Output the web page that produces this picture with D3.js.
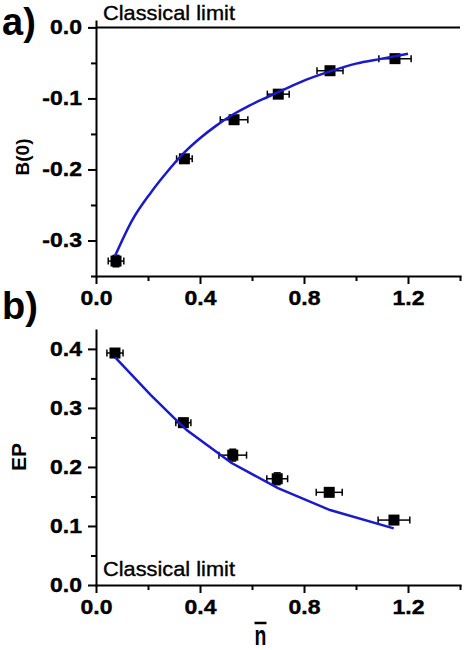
<!DOCTYPE html>
<html lang="en">
<head>
    <meta charset="UTF-8">
    <title>B(0) and EP vs n</title>
    <script src="https://d3js.org/d3.v7.min.js"></script>
    <style>
        body {
            margin: 0;
            background-color: #fff;
        }
        svg text {
            font-family: "Liberation Sans", Arial, sans-serif;
        }
    </style>
</head>
<body>
<div id="chart"></div>

<script>
    // panel a) : B(0)
    const nA = [0.077, 0.34, 0.531, 0.701, 0.90, 1.15];
    const nAErr = [0.030, 0.030, 0.053, 0.042, 0.050, 0.062];
    const bZero = [-0.329, -0.185, -0.130, -0.094, -0.061, -0.044];
    const bZeroErr = [0.008, 0.005, 0.003, 0.003, 0.002, 0.003];
    const fitAx = [0.073, 0.14, 0.21, 0.27, 0.34, 0.40, 0.46, 0.53, 0.59, 0.66, 0.72, 0.80, 0.90, 1.00, 1.10, 1.20];
    const fitAy = [-0.322, -0.271, -0.233, -0.205, -0.176, -0.156, -0.139, -0.122, -0.110, -0.098, -0.088, -0.075, -0.062, -0.051, -0.044, -0.037];

    // panel b) : EP
    const nB = [0.073, 0.336, 0.526, 0.697, 0.897, 1.146];
    const nBErr = [0.031, 0.029, 0.053, 0.040, 0.050, 0.061];
    const ep = [0.393, 0.275, 0.220, 0.180, 0.157, 0.110];
    const epErr = [0.005, 0.007, 0.010, 0.010, 0.004, 0.006];
    const fitBx = [0.073, 0.21, 0.30, 0.35, 0.52, 0.70, 0.90, 1.145];
    const fitBy = [0.386, 0.322, 0.283, 0.262, 0.207, 0.164, 0.127, 0.096];

    const xTicks = [0.0, 0.4, 0.8, 1.2];
    const xMinor = [0.2, 0.6, 1.0, 1.4];
    const yTicksA = [0.0, -0.1, -0.2, -0.3];
    const yMinorA = [-0.05, -0.15, -0.25, -0.35];
    const yTicksB = [0.0, 0.1, 0.2, 0.3, 0.4];
    const yMinorB = [0.05, 0.15, 0.25, 0.35];

    const width = 465;
    const height = 650;
    const blue = "#1a1acc";
    const stretch = 1.15;

    const svg = d3.select("#chart")
        .append("svg")
        .attr("width", width)
        .attr("height", height);

    const x = d3.scaleLinear().domain([0, 1.4]).range([96, 460]);
    const yA = d3.scaleLinear().domain([-0.35, 0.009]).range([276, 21]);
    const yB = d3.scaleLinear().domain([0, 0.432]).range([585, 330]);

    const fmt = d => d.toFixed(1);

    function drawAxes(y, yTicks, yMinor, bottom) {
        // minor ticks first
        svg.append("g")
            .attr("transform", `translate(0,${bottom})`)
            .call(d3.axisBottom(x).tickValues(xMinor).tickSize(5).tickFormat(""))
            .call(g => g.select(".domain").remove());
        svg.append("g")
            .attr("transform", `translate(${x(0)},0)`)
            .call(d3.axisLeft(y).tickValues(yMinor).tickSize(5).tickFormat(""))
            .call(g => g.select(".domain").remove());

        const gx = svg.append("g")
            .attr("transform", `translate(0,${bottom})`)
            .call(d3.axisBottom(x).tickValues(xTicks).tickSize(8).tickSizeOuter(0).tickPadding(7).tickFormat(fmt));
        gx.selectAll("text")
            .attr("transform", `scale(${stretch},1)`);

        const gy = svg.append("g")
            .attr("transform", `translate(${x(0)},0)`)
            .call(d3.axisLeft(y).tickValues(yTicks).tickSize(8).tickSizeOuter(0).tickPadding(6).tickFormat(fmt));
        gy.selectAll("text")
            .attr("x", -14 / stretch)
            .attr("transform", `scale(${stretch},1)`);

        svg.selectAll(".tick line").attr("stroke", "#000").attr("stroke-width", 2);
        svg.selectAll(".domain").attr("stroke", "#000").attr("stroke-width", 2).attr("stroke-linecap", "square");
        svg.selectAll(".tick text")
            .attr("fill", "#000")
            .attr("stroke", "#000")
            .attr("stroke-width", 0.4)
            .attr("font-size", "20px")
            .attr("font-weight", "bold")
            .attr("font-family", "Liberation Sans, Arial, sans-serif");
    }

    function drawPoints(xs, xe, ys, ye, y) {
        const data = xs.map((v, i) => ({ n: v, ne: xe[i], v: ys[i], ve: ye[i] }));
        const g = svg.append("g").attr("stroke", "#000").attr("stroke-width", 1.5);
        const cap = 3.5;

        data.forEach(d => {
            const cx = x(d.n), cy = y(d.v);
            const x0 = x(d.n - d.ne), x1 = x(d.n + d.ne);
            const y0 = y(d.v - d.ve), y1 = y(d.v + d.ve);
            g.append("line").attr("x1", x0).attr("x2", x1).attr("y1", cy).attr("y2", cy);
            g.append("line").attr("x1", x0).attr("x2", x0).attr("y1", cy - cap).attr("y2", cy + cap);
            g.append("line").attr("x1", x1).attr("x2", x1).attr("y1", cy - cap).attr("y2", cy + cap);
            g.append("line").attr("x1", cx).attr("x2", cx).attr("y1", y0).attr("y2", y1);
            g.append("line").attr("x1", cx - cap).attr("x2", cx + cap).attr("y1", y0).attr("y2", y0);
            g.append("line").attr("x1", cx - cap).attr("x2", cx + cap).attr("y1", y1).attr("y2", y1);
        });

        svg.append("g").selectAll("rect")
            .data(data)
            .enter()
            .append("rect")
            .attr("x", d => x(d.n) - 5.5)
            .attr("y", d => y(d.v) - 5.5)
            .attr("width", 11)
            .attr("height", 11)
            .attr("fill", "#000");
    }

    function drawFit(xs, ys, y, curve) {
        const pts = xs.map((v, i) => [v, ys[i]]);
        const line = d3.line()
            .x(d => x(d[0]))
            .y(d => y(d[1]))
            .curve(curve);
        svg.append("path")
            .attr("d", line(pts))
            .attr("fill", "none")
            .attr("stroke", blue)
            .attr("stroke-width", 2.5);
    }

    // ---- panel a)
    svg.append("line")
        .attr("x1", x(0)).attr("x2", x(1.4))
        .attr("y1", yA(0)).attr("y2", yA(0))
        .attr("stroke", "#000").attr("stroke-width", 2);
    drawAxes(yA, yTicksA, yMinorA, yA(-0.35));
    drawPoints(nA, nAErr, bZero, bZeroErr, yA);
    drawFit(fitAx, fitAy, yA, d3.curveMonotoneX);

    // ---- panel b)
    drawAxes(yB, yTicksB, yMinorB, yB(0));
    drawPoints(nB, nBErr, ep, epErr, yB);
    drawFit(fitBx, fitBy, yB, d3.curveLinear);

    // labels
    svg.append("text").attr("x", 2).attr("y", 35)
        .attr("font-size", "38px").attr("font-weight", "bold").text("a)");
    svg.append("text").attr("x", 2).attr("y", 319)
        .attr("font-size", "38px").attr("font-weight", "bold").text("b)");

    svg.selectAll(".limit")
        .data([20, 576])
        .enter()
        .append("text")
        .attr("class", "limit")
        .attr("transform", d => `translate(103,${d}) scale(1.09,1)`)
        .attr("font-size", "20px")
        .attr("stroke", "#000")
        .attr("stroke-width", 0.35)
        .text("Classical limit");

    svg.append("text")
        .attr("transform", "translate(29,157) rotate(-90)")
        .attr("text-anchor", "middle")
        .attr("font-size", "19px").attr("font-weight", "bold").text("B(0)");
    svg.append("text")
        .attr("transform", "translate(26,457) rotate(-90)")
        .attr("text-anchor", "middle")
        .attr("font-size", "21px").attr("font-weight", "bold").text("EP");

    // n with an overbar
    svg.append("text")
        .attr("transform", "translate(260.5,645) scale(0.72,1)")
        .attr("text-anchor", "middle")
        .attr("font-size", "27px").attr("font-weight", "bold").text("n");
    svg.append("line")
        .attr("x1", 254.5).attr("x2", 266.5)
        .attr("y1", 623).attr("y2", 623)
        .attr("stroke", "#000").attr("stroke-width", 2.5);
</script>
</body>
</html>
